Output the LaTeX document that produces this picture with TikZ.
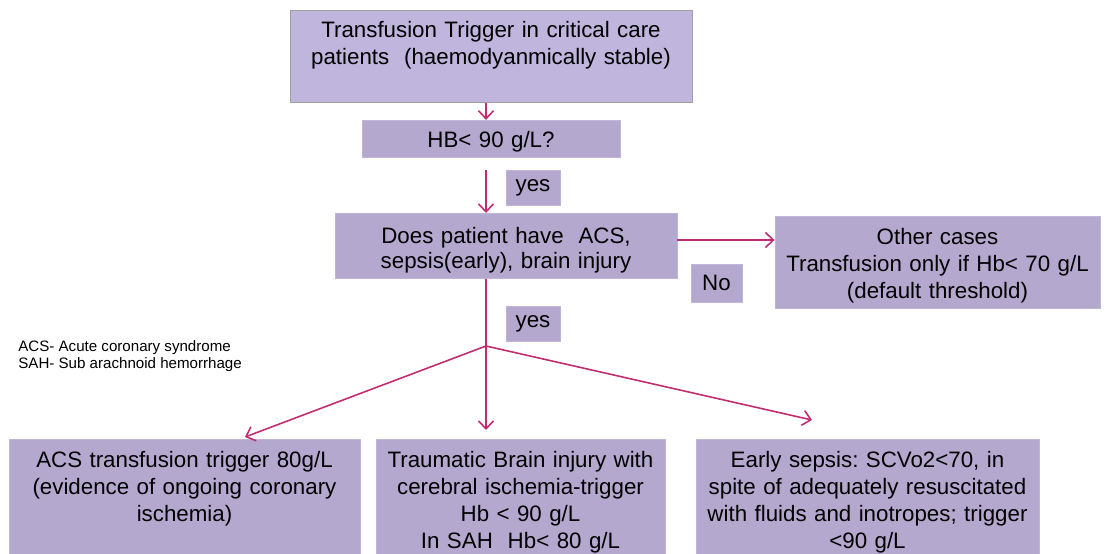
\documentclass[tikz,border=0pt]{standalone}
\usepackage{fontspec}
\setmainfont{Liberation Sans}
\usetikzlibrary{positioning, arrows.meta, calc}

\definecolor{topfill}{RGB}{192,181,221}
\definecolor{boxfill}{RGB}{181,168,207}
\definecolor{linkred}{RGB}{193,44,113}

\begin{document}
\begin{tikzpicture}[
    >={Straight Barb[length=1.6mm,width=3mm]},
    font=\fontsize{12.7}{15.4}\selectfont\frenchspacing,
    box/.style={
        rectangle, draw=boxfill!85!white, line width=0.5pt,
        fill=boxfill, align=center, inner sep=0pt, anchor=north
    },
    tallbox/.style={box, text height=0.56cm, text depth=1.8cm},
    tag/.style={box, text width=1.08cm, text height=0.42cm, text depth=0.28cm},
    arrow/.style={->, draw=linkred, line width=0.9pt},
    link/.style={draw=linkred, line width=0.9pt}
]
\useasboundingbox (0,0) rectangle (22.1,-11.08);

%% ─── QUESTION CHAIN ─────────────────────────────────────────────────────

\node[box, fill=topfill, draw=gray!75,
      text width=8.04cm, text height=0.54cm, text depth=1.3cm]
      (trigger) at (9.82,-0.2)
      {Transfusion Trigger in critical care\\patients\ \ (haemodyanmically stable)};

\node[box, below=0.34cm of trigger,
      text width=5.16cm, text height=0.54cm, text depth=0.2cm]
      (hb) {HB< 90 g/L?};

\node[tag] (yesA) at (10.66,-3.4) {yes};

\node[box, text width=6.84cm, text height=0.6cm, text depth=0.7cm,
      font=\fontsize{12.7}{14.3}\selectfont\frenchspacing]
      (acs) at (10.12,-4.26)
      {Does patient have\ \ ACS,\\sepsis(early), brain injury};

\node[box, text width=6.5cm, text height=0.56cm, text depth=1.28cm]
      (other) at (18.75,-4.32)
      {Other cases\\Transfusion only if Hb< 70 g/L\\(default threshold)};

\node[tag, text width=1.02cm, text height=0.53cm, text depth=0.23cm]
      (no) at (14.33,-5.28) {No};

\node[tag] (yesB) at (10.66,-6.12) {yes};

%% ─── ABBREVIATIONS ──────────────────────────────────────────────────────

\node[anchor=north west, align=left, inner sep=0pt,
      font=\fontsize{8.6}{9.8}\selectfont]
      (legend) at (0.36,-6.8)
      {ACS- Acute coronary syndrome\\SAH- Sub arachnoid hemorrhage};

%% ─── OUTCOMES ───────────────────────────────────────────────────────────

\node[tallbox, text width=7.02cm] (acsT) at (3.69,-8.78)
      {ACS transfusion trigger 80g/L\\(evidence of ongoing coronary\\ischemia)};
\node[tallbox, text width=5.78cm] (tbiT) at (10.41,-8.78)
      {Traumatic Brain injury with\\cerebral ischemia-trigger\\Hb < 90 g/L\\In SAH\ \ Hb< 80 g/L};
\node[tallbox, text width=6.86cm] (sepT) at (17.35,-8.78)
      {Early sepsis: SCVo2<70, in\\spite of adequately resuscitated\\with fluids and inotropes; trigger\\<90 g/L};

%% ─── CONNECTORS ─────────────────────────────────────────────────────────

\coordinate (spine)     at (9.72,0);
\coordinate (split)     at (9.72,-6.92);
\coordinate (acsEnd)    at (4.9,-8.74);
\coordinate (tbiEnd)    at (9.72,-8.6);
\coordinate (sepEnd)    at (16.24,-8.4);
\coordinate (noStart)   at (13.54,-4.8);

\draw[arrow] (trigger.south -| spine) -- (hb.north -| spine);
\draw[arrow] ($(hb.south -| spine)+(0,-0.24)$) -- (acs.north -| spine);
\draw[arrow] (noStart) -- (noStart -| other.west);

% split into the three outcomes
\draw[link]  (acs.south -| spine) -- (split);
\draw[arrow] (split) -- (acsEnd);
\draw[arrow] (split) -- (tbiEnd);
\draw[arrow] (split) -- (sepEnd);

\end{tikzpicture}
\end{document}
